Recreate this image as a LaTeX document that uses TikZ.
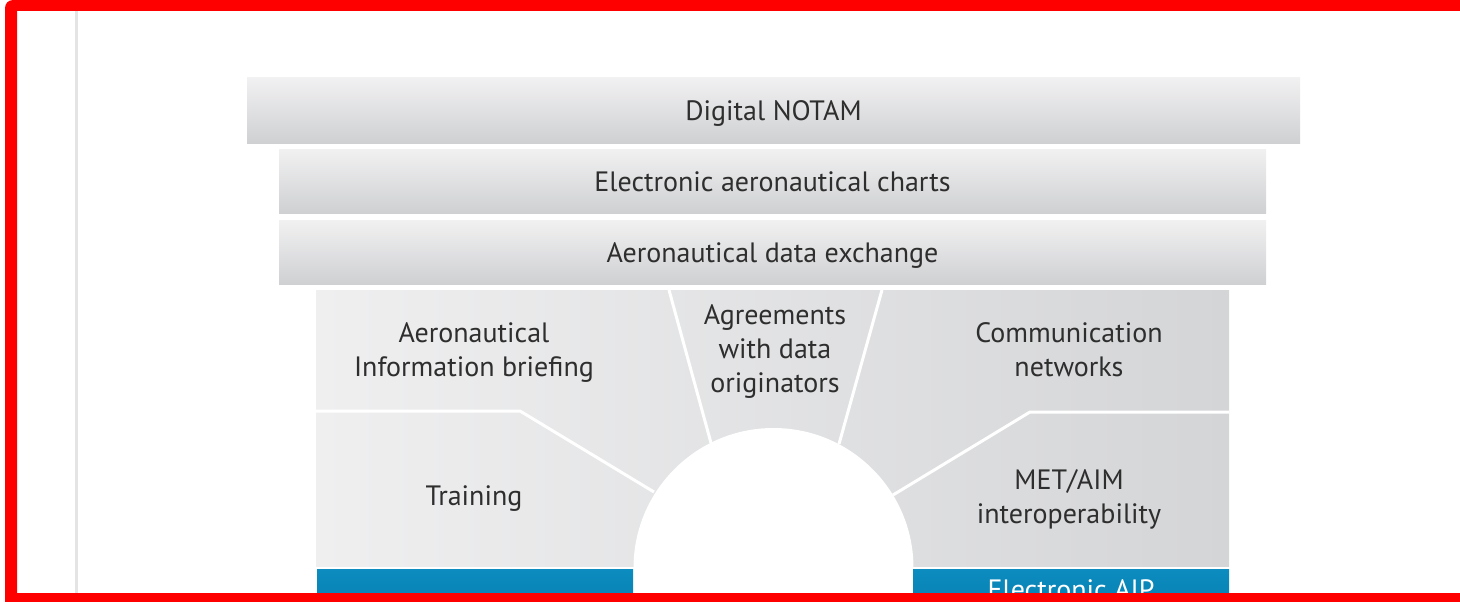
\documentclass[tikz,border=0pt]{standalone}
\usepackage{fontspec}
\setmainfont{PT Sans}
\usepackage{tikz}
\usepackage{xcolor}

\definecolor{frame_red}{HTML}{FF0000}
\definecolor{rule_gray}{HTML}{E4E4E4}
\definecolor{text_gray}{HTML}{2E2E2E}
\definecolor{bar_top}{HTML}{F1F1F2}
\definecolor{bar_bottom}{HTML}{CFD0D2}
\definecolor{mid_left}{HTML}{EFEFF0}
\definecolor{mid_right}{HTML}{D4D5D7}
\definecolor{blue_top}{HTML}{0C8CBF}
\definecolor{blue_bottom}{HTML}{0679AA}

\begin{document}
\begin{tikzpicture}[x=1pt,y=-1pt,
					every node/.style = {font=\fontsize{28}{34}\selectfont, text=text_gray, align=center}]

\tikzstyle{bar_node}=[rectangle, inner sep=0pt, minimum width=987, minimum height=64, text height=20pt, text depth=0pt, top color=bar_top, bottom color=bar_bottom]
\tikzstyle{blue_bar}=[rectangle, inner sep=0pt, minimum width=316, minimum height=60, top color=blue_top, bottom color=blue_bottom]
\tikzstyle{divider}=[white, line width=3pt]

\useasboundingbox (0,0) rectangle (1460,602);

% page rule
\fill[rule_gray] (75,11) rectangle (78,593);

% roof bars
\node[bar_node, minimum width=1053, minimum height=65] (notam) at (773.5,110.5) {Digital NOTAM};
\node[bar_node] (charts) at (772.5,181) {Electronic aeronautical charts};
\node[bar_node] (exchange) at (772.5,252) {Aeronautical data exchange};

% middle block with dividers and the white disc
\shade[left color=mid_left, right color=mid_right] (316,290) rectangle (1229,566);
\draw[divider] (316,411) -- (520,411) -- (654,492);
\draw[divider] (669,290) -- (711,443);
\draw[divider] (882,290) -- (839,444);
\draw[divider] (1229,412) -- (1030,412) -- (893,495);
\fill[white] (773.5,568) circle (140pt);

\node (briefing) at (474,353) {Aeronautical\\Information briefing};
\node (agreements) at (775,352) {Agreements\\with data\\originators};
\node (networks) at (1069,350) {Communication\\networks};
\node (training) at (474,499) {Training};
\node (metaim) at (1069,499) {MET/AIM\\interoperability};

% blue bars
\node[blue_bar] (quality_bar) at (475,599) {};
\node[blue_bar] (eaip_bar) at (1071,599) {};
\node[text=white, anchor=base] (eaip) at (1071,599) {Electronic AIP};

% frame
\fill[frame_red, even odd rule] (5,602) {[rounded corners=8pt] -- (5,0) -- (1470,0)} -- (1470,602) -- cycle
	(17,11) rectangle (1470,593);
\end{tikzpicture}
\end{document}
